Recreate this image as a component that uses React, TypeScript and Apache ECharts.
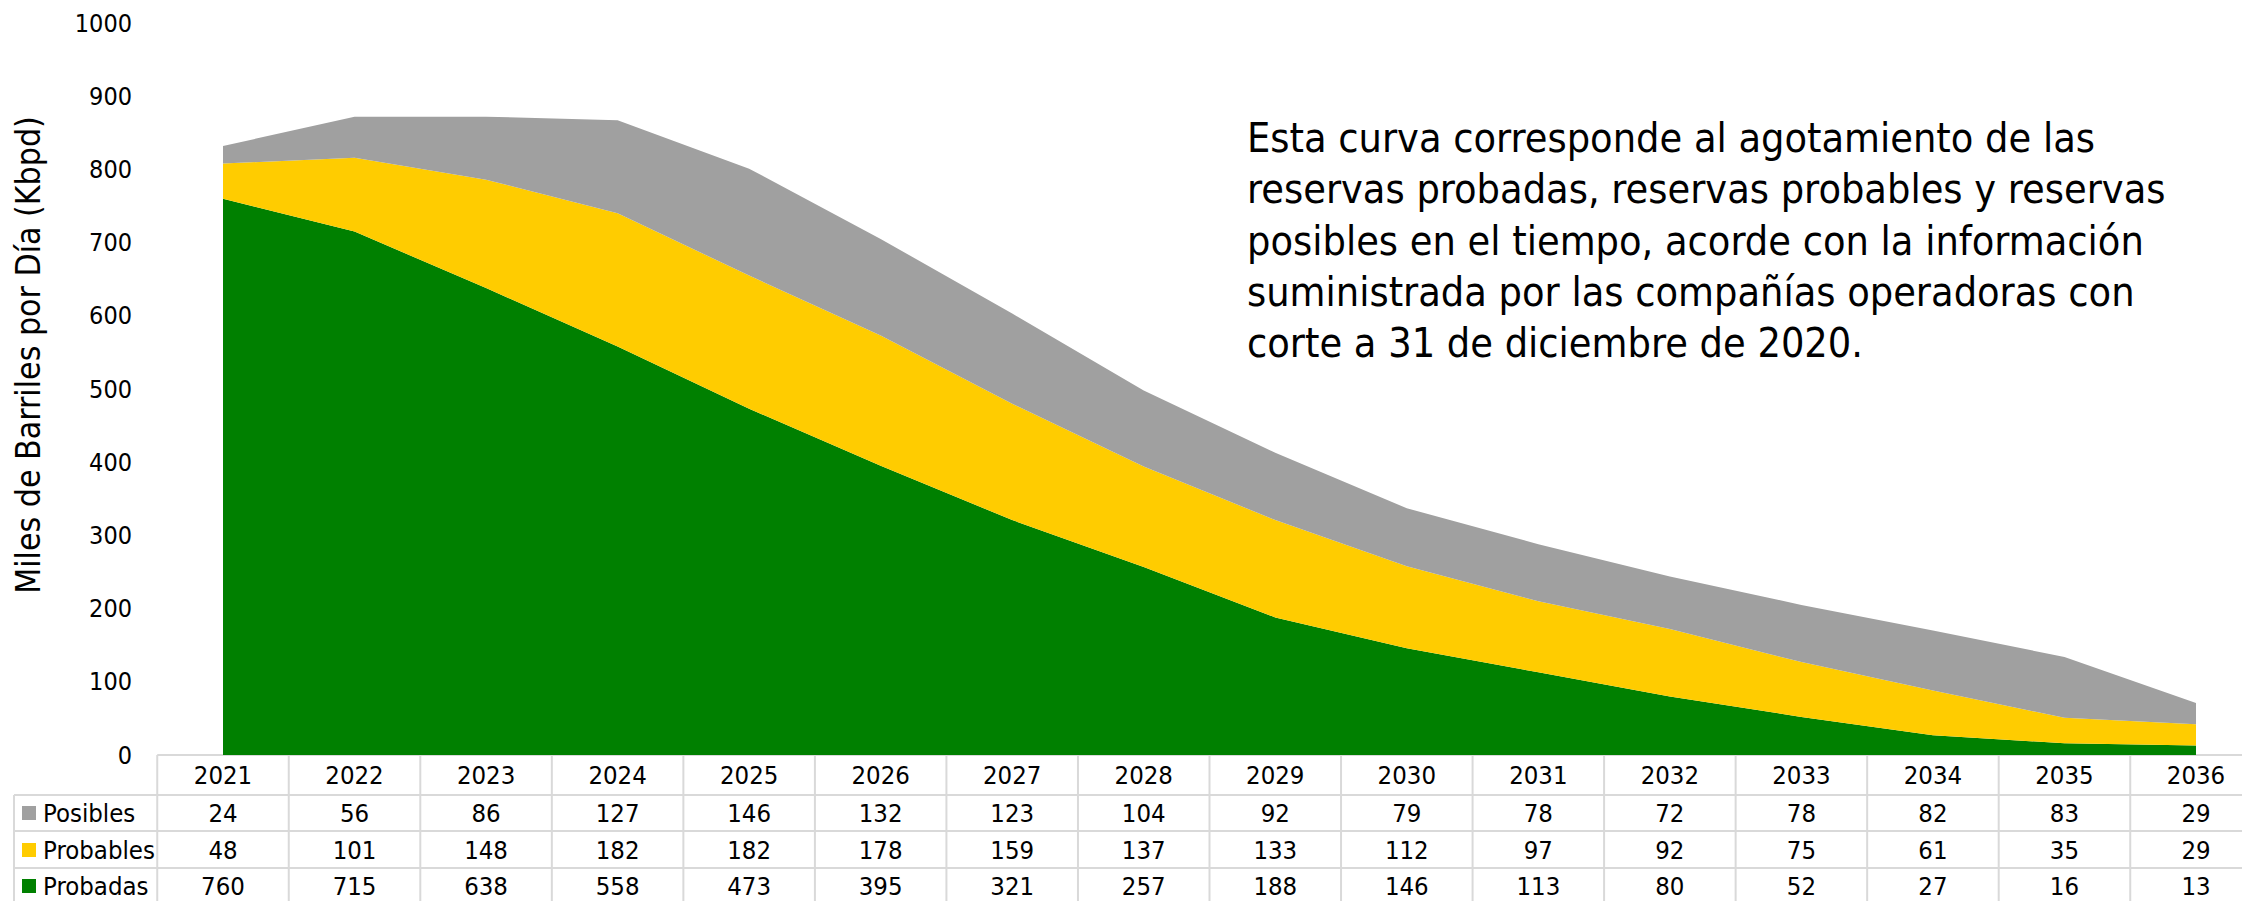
import { useEffect, useRef } from "react";
import * as echarts from "echarts";

const years = ["2021", "2022", "2023", "2024", "2025", "2026", "2027", "2028", "2029", "2030", "2031", "2032", "2033", "2034", "2035", "2036"];
const posibles = [24, 56, 86, 127, 146, 132, 123, 104, 92, 79, 78, 72, 78, 82, 83, 29];
const probables = [48, 101, 148, 182, 182, 178, 159, 137, 133, 112, 97, 92, 75, 61, 35, 29];
const probadas = [760, 715, 638, 558, 473, 395, 321, 257, 188, 146, 113, 80, 52, 27, 16, 13];
const seriesNames = ["Posibles", "Probables", "Probadas"];
const seriesColors = ["#A0A0A0", "#FFCC00", "#008000"];
const yMin = 0;
const yMax = 1000;
const yInterval = 100;
const yTitle = "Miles de Barriles por Día (Kbpd)";
const noteLines = [
  "Esta curva corresponde al agotamiento de las",
  "reservas probadas, reservas probables y reservas",
  "posibles en el tiempo, acorde con la información",
  "suministrada por las compañías operadoras con",
  "corte a 31 de diciembre de 2020.",
];

const W = 2242;
const H = 901;
const FONT = "'DejaVu Sans Condensed', 'DejaVu Sans', sans-serif";
const LINE = "#D9D9D9";

export default function App() {
  const ref = useRef<HTMLDivElement>(null);

  useEffect(() => {
    document.body.style.margin = "0";
    const chart = echarts.init(ref.current!, null, { renderer: "svg", width: W, height: H });

    const rowValues = [posibles, probables, probadas];
    const rowMargins = [58, 95, 131];
    const labelStyle = { fontSize: 25.5, color: "#000", fontFamily: FONT };

    const valueAxes = rowValues.map((vals, i) => ({
      type: "category",
      gridIndex: 0,
      position: "bottom",
      boundaryGap: false,
      data: vals.map(String),
      axisLine: { show: false },
      axisTick: { show: false },
      splitLine: { show: false },
      axisLabel: { ...labelStyle, interval: 0, margin: rowMargins[i], verticalAlign: "middle" },
    }));

    chart.setOption({
      animation: false,
      backgroundColor: "#fff",
      textStyle: { fontFamily: FONT },
      grid: { left: 223, right: 46, top: 23, bottom: 146, containLabel: false },
      xAxis: [
        {
          type: "category",
          data: years,
          boundaryGap: false,
          position: "bottom",
          axisLine: { show: false },
          axisTick: { show: false },
          splitLine: { show: false },
          axisLabel: { ...labelStyle, interval: 0, margin: 20, verticalAlign: "middle" },
        },
        ...valueAxes,
      ],
      yAxis: {
        type: "value",
        min: yMin,
        max: yMax,
        interval: yInterval,
        axisLine: { show: false },
        axisTick: { show: false },
        splitLine: { show: false },
        axisLabel: { ...labelStyle, fontSize: 25, margin: 91, formatter: (v: number) => String(v) },
      },
      series: [
        { name: "Probadas", data: probadas, color: seriesColors[2] },
        { name: "Probables", data: probables, color: seriesColors[1] },
        { name: "Posibles", data: posibles, color: seriesColors[0] },
      ].map((s) => ({
        type: "line",
        name: s.name,
        data: s.data,
        stack: "total",
        symbol: "none",
        xAxisIndex: 0,
        yAxisIndex: 0,
        itemStyle: { color: s.color },
        lineStyle: { width: 0, color: s.color },
        areaStyle: { color: s.color, opacity: 1 },
      })),
    });

    const c0 = chart.convertToPixel({ xAxisIndex: 0 }, years[0]) as number;
    const c1 = chart.convertToPixel({ xAxisIndex: 0 }, years[1]) as number;
    const step = c1 - c0;
    const yBase = chart.convertToPixel({ yAxisIndex: 0 }, 0) as number;
    const rowY = [yBase, yBase + 40, yBase + 76, yBase + 113, yBase + 150];
    const tableLeft = 14;
    const firstCol = c0 - step / 2;

    const lines: any[] = [];
    lines.push({ type: "line", shape: { x1: firstCol, y1: rowY[0], x2: W, y2: rowY[0] } });
    for (let r = 1; r <= 3; r++) {
      lines.push({ type: "line", shape: { x1: tableLeft, y1: rowY[r], x2: W, y2: rowY[r] } });
    }
    lines.push({ type: "line", shape: { x1: tableLeft, y1: rowY[1], x2: tableLeft, y2: H } });
    for (let k = 0; k <= years.length; k++) {
      const x = firstCol + k * step;
      if (x > W) break;
      lines.push({ type: "line", shape: { x1: x, y1: rowY[0], x2: x, y2: H } });
    }
    lines.forEach((l) => {
      l.style = { stroke: LINE, lineWidth: 2 };
      l.silent = true;
    });

    const rowLabels: any[] = [];
    seriesNames.forEach((name, i) => {
      const cy = yBase + rowMargins[i];
      rowLabels.push({
        type: "rect",
        silent: true,
        shape: { x: 22, y: cy - 7, width: 14, height: 14 },
        style: { fill: seriesColors[i] },
      });
      rowLabels.push({
        type: "text",
        silent: true,
        x: 43,
        y: cy,
        style: { text: name, fontSize: 25.5, fontFamily: FONT, fill: "#000", align: "left", verticalAlign: "middle" },
      });
    });

    const noteTexts = noteLines.map((t, i) => ({
      type: "text",
      x: 1247,
      y: 138 + i * 51.3,
      silent: true,
      style: {
        text: t,
        fontSize: 41,
        fontFamily: FONT,
        fill: "#000",
        align: "left",
        verticalAlign: "middle",
      },
    }));

    chart.setOption({
      graphic: [
        ...lines,
        ...rowLabels,
        ...noteTexts,
        {
          type: "text",
          x: 28,
          y: 355,
          rotation: Math.PI / 2,
          silent: true,
          style: {
            text: yTitle,
            fontSize: 33.5,
            fontFamily: FONT,
            fill: "#000",
            align: "center",
            verticalAlign: "middle",
          },
        },
      ],
    });

    return () => chart.dispose();
  }, []);

  return <div ref={ref} style={{ position: "absolute", left: 0, top: 0, width: W, height: H }} />;
}
